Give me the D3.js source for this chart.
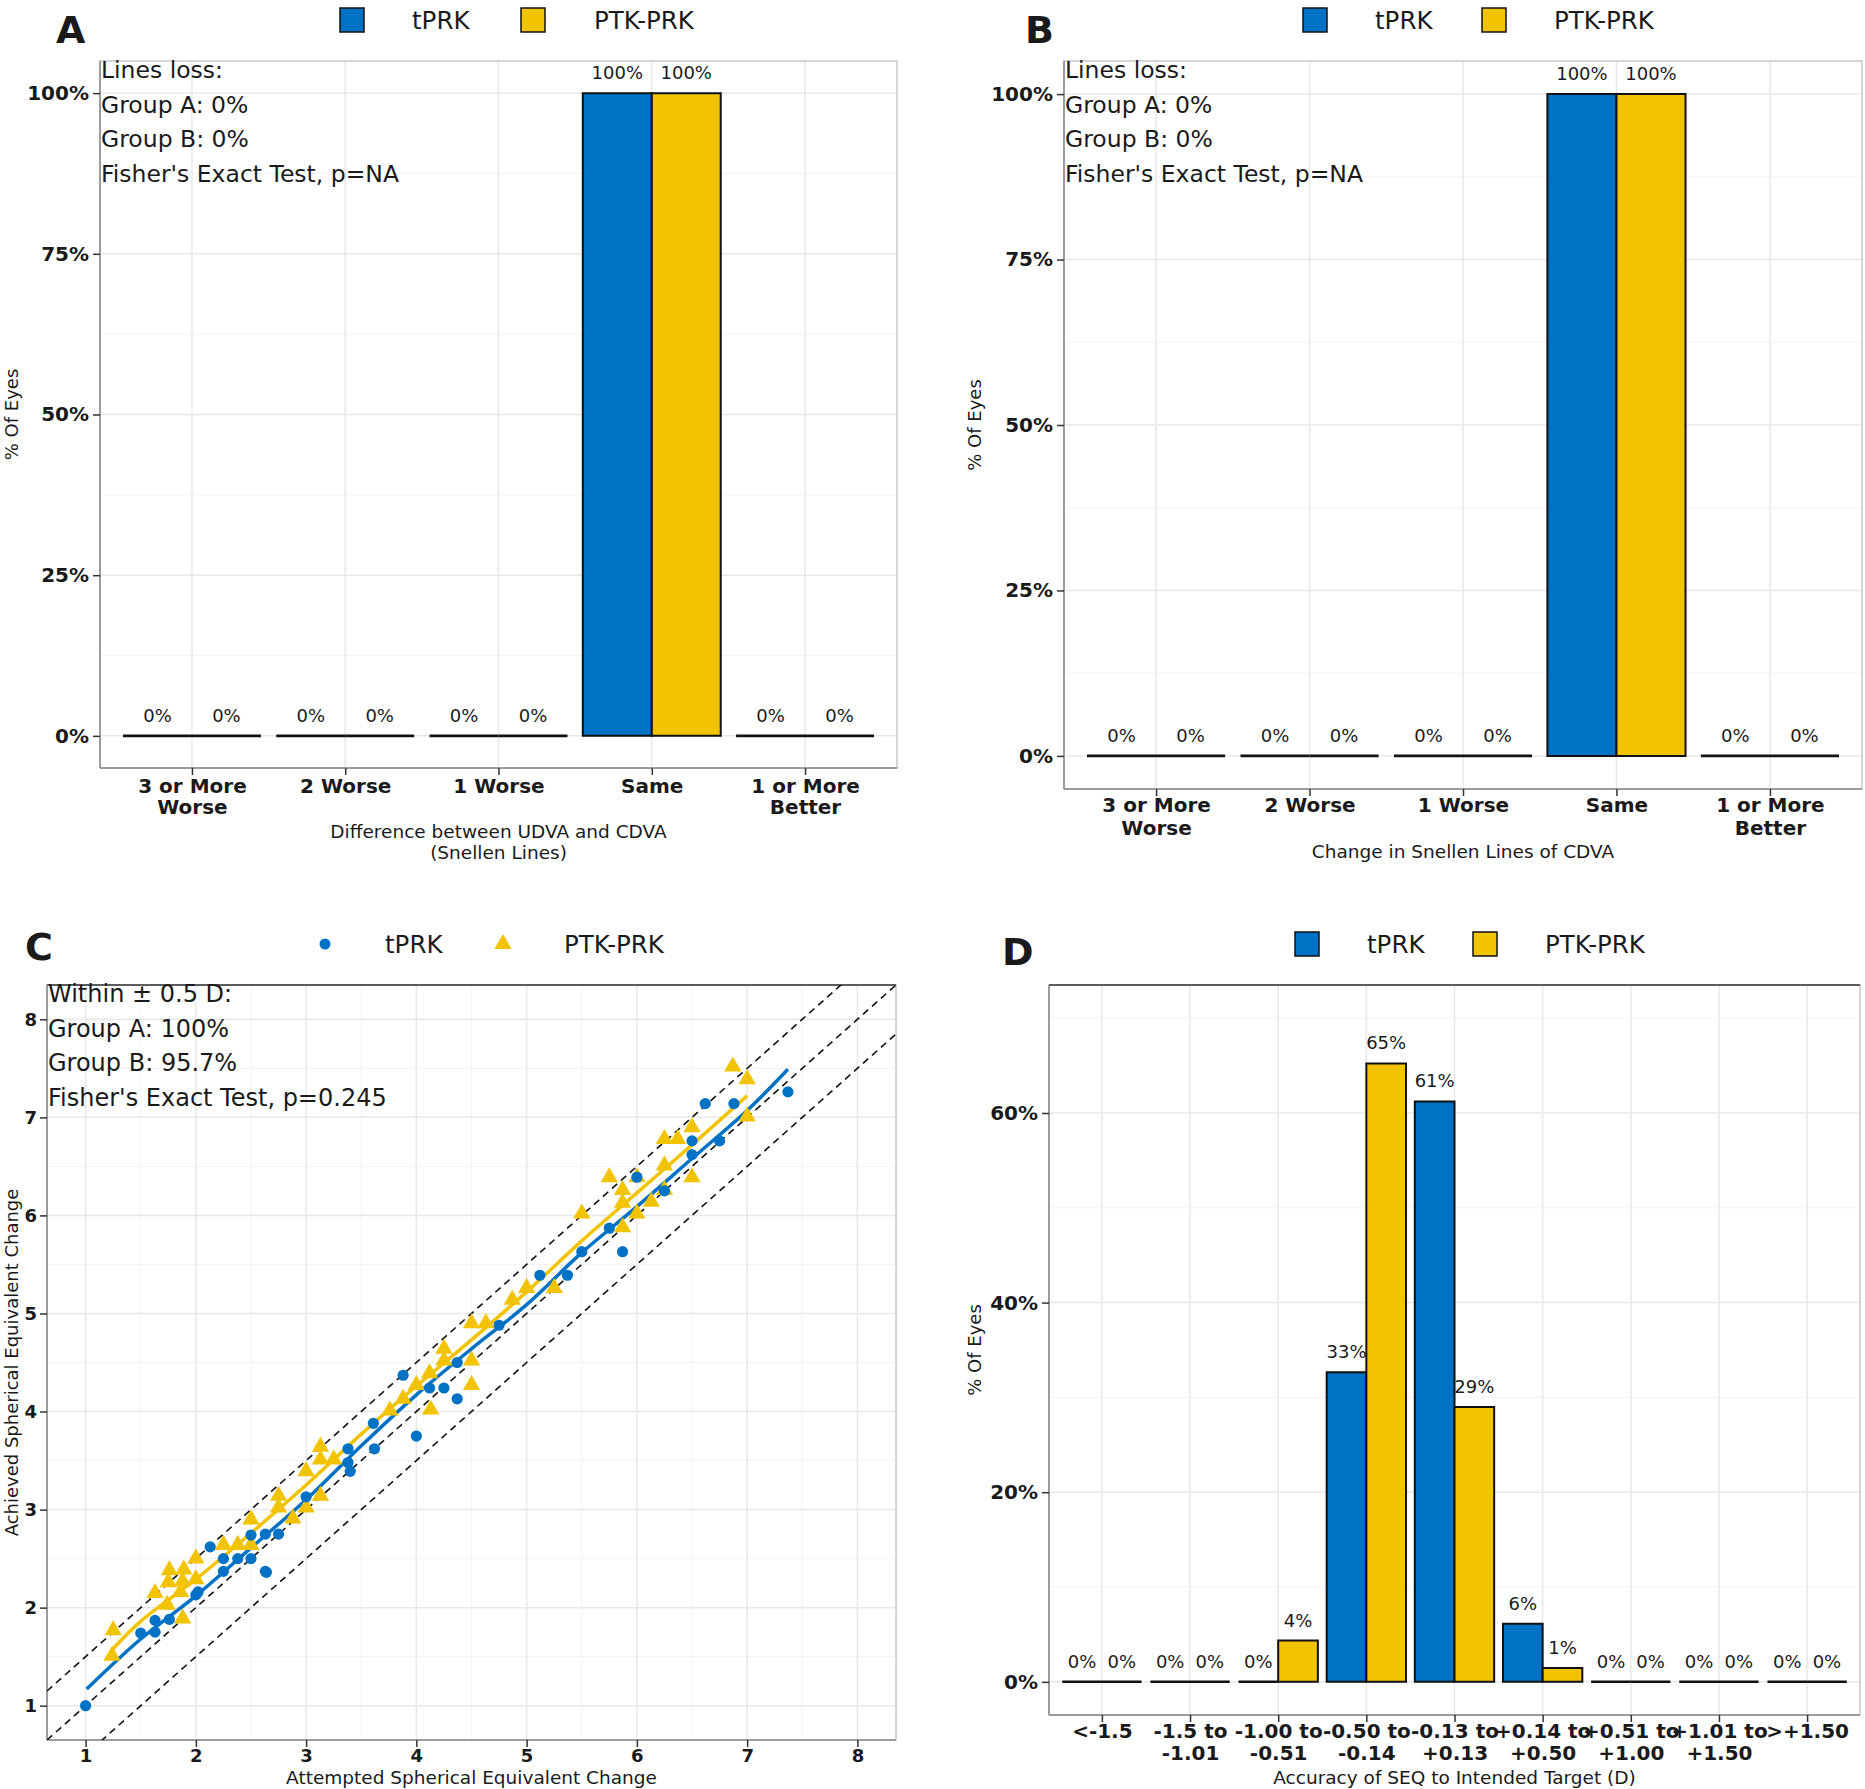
<!DOCTYPE html>
<html lang="en">
<head>
<meta charset="UTF-8">
<script src="https://cdn.jsdelivr.net/npm/d3@7"></script>
<title>Refractive outcomes</title>
<style>
    body { margin: 0; background: #fff; }
    svg text { font-family: "DejaVu Sans", sans-serif; fill: #1a1a1a; }
</style>
</head>
<body>
<svg id="fig" width="1865" height="1789"></svg>
<script>
    // ---- data ----
    const groups = ["tPRK", "PTK-PRK"];
    const colors = ["#0072C6", "#F2C300"];

    const snellenCats = ["3 or More\nWorse", "2 Worse", "1 Worse", "Same", "1 or More\nBetter"];
    const udvaTprk = [0, 0, 0, 100, 0];
    const udvaPtk = [0, 0, 0, 100, 0];
    const cdvaTprk = [0, 0, 0, 100, 0];
    const cdvaPtk = [0, 0, 0, 100, 0];
    const pctTicksAB = [0, 25, 50, 75, 100];
    const pctMinorAB = [12.5, 37.5, 62.5, 87.5];

    const seqCats = ["<-1.5", "-1.5 to\n-1.01", "-1.00 to\n-0.51", "-0.50 to\n-0.14", "-0.13 to\n+0.13",
        "+0.14 to\n+0.50", "+0.51 to\n+1.00", "+1.01 to\n+1.50", ">+1.50"];
    const seqTprk = [0, 0, 0, 32.65, 61.22, 6.12, 0, 0, 0];
    const seqPtk = [0, 0, 4.35, 65.22, 28.99, 1.45, 0, 0, 0];
    const pctTicksD = [0, 20, 40, 60];
    const pctMinorD = [10, 30, 50, 70];

    const annotA = ["Lines loss:", "Group A: 0%", "Group B: 0%", "Fisher's Exact Test, p=NA"];
    const annotB = ["Lines loss:", "Group A: 0%", "Group B: 0%", "Fisher's Exact Test, p=NA"];
    const annotC = ["Within \u00b1 0.5 D:", "Group A: 100%", "Group B: 95.7%", "Fisher's Exact Test, p=0.245"];

    // scatter: attempted vs achieved SE change
    const tprkAttempted = [1, 1.5, 1.63, 1.63, 1.76, 2, 2.02, 2.13, 2.25, 2.25, 2.38, 2.5, 2.5, 2.63, 2.64, 2.63,
        2.75, 3, 3.38, 3.38, 3.4, 3.61, 3.62, 3.88, 4, 4.12, 4.25, 4.37, 4.37, 4.75, 5.12, 5.37, 5.5, 5.87,
        5.75, 6, 6.25, 6.5, 6.5, 6.62, 6.75, 6.88, 7.37];
    const tprkAchieved = [1, 1.74, 1.75, 1.87, 1.88, 2.13, 2.16, 2.62, 2.37, 2.5, 2.5, 2.5, 2.74, 2.37, 2.36, 2.75,
        2.75, 3.13, 3.62, 3.48, 3.39, 3.88, 3.62, 4.37, 3.75, 4.24, 4.24, 4.5, 4.13, 4.88, 5.39, 5.39, 5.63, 5.63,
        5.87, 6.39, 6.25, 6.62, 6.76, 7.14, 6.76, 7.14, 7.26];
    const ptkAttempted = [1.25, 1.24, 1.63, 1.76, 1.75, 1.74, 1.89, 1.88, 1.86, 2, 2, 1.88, 2.25, 2.38, 2.5, 2.5,
        2.75, 2.75, 2.88, 3, 3, 3.13, 3.13, 3.13, 3.25, 3.76, 3.88, 4, 4.12, 4.13, 4.25, 4.25, 4.5, 4.5, 4.5,
        4.63, 4.87, 5, 5.25, 5.5, 5.75, 5.87, 5.87, 5.87, 6, 6, 6.13, 6.25, 6.25, 6.25, 6.37, 6.5, 6.5, 6.87, 7, 7];
    const ptkAchieved = [1.77, 1.51, 2.15, 2.38, 2.26, 2.03, 2.39, 1.89, 2.16, 2.5, 2.29, 2.27, 2.64, 2.64, 2.9, 2.64,
        3.14, 3.02, 2.91, 3.39, 3.02, 3.64, 3.51, 3.14, 3.51, 4.01, 4.13, 4.27, 4.39, 4.02, 4.64, 4.52, 4.9, 4.52, 4.27,
        4.9, 5.14, 5.26, 5.26, 6.02, 6.39, 6.26, 6.13, 5.88, 6.39, 6.02, 6.14, 6.78, 6.51, 6.26, 6.78, 6.9, 6.39, 7.52, 7.39, 7.01];

    // loess curves as drawn
    const tprkFitX = [1.01, 1.5, 2, 2.5, 3, 3.5, 4, 4.5, 5, 5.5, 6, 6.5, 7, 7.37];
    const tprkFitY = [1.17, 1.68, 2.12, 2.61, 3.1, 3.65, 4.17, 4.64, 5.09, 5.62, 6.09, 6.58, 7.07, 7.49];
    const ptkFitX = [1.24, 1.5, 2, 2.5, 3, 3.5, 4, 4.5, 5, 5.5, 6, 6.5, 7];
    const ptkFitY = [1.57, 1.86, 2.29, 2.76, 3.25, 3.77, 4.26, 4.73, 5.22, 5.74, 6.23, 6.72, 7.22];
    const seTicks = [1, 2, 3, 4, 5, 6, 7, 8];
    const seMinor = [1.5, 2.5, 3.5, 4.5, 5.5, 6.5, 7.5];
    const bandOffsets = [-0.5, 0, 0.5];

    const svg = d3.select("#fig");

    function multiLine(sel, lineH) {
        sel.each(function () {
            const t = d3.select(this);
            const parts = t.text().split("\n");
            const dy = t.attr("dy");
            t.text(null);
            parts.forEach((p, i) => {
                t.append("tspan").attr("x", 0).attr("dy", i === 0 ? dy : lineH + "px").text(p);
            });
        });
    }

    function styleAxis(g, size) {
        g.select(".domain").remove();
        g.selectAll(".tick line").attr("stroke", "#333").attr("stroke-width", 1.5);
        g.selectAll(".tick text")
            .attr("fill", "#1a1a1a")
            .style("font-size", size + "px")
            .style("font-weight", "bold")
            .style("font-family", "DejaVu Sans, sans-serif");
    }

    function drawFrame(p, x, y, xGrid, xMinor, yGrid, yMinor, darkTop) {
        const g = svg.append("g");
        xMinor.forEach(v => g.append("line").attr("x1", x(v)).attr("x2", x(v)).attr("y1", p.top).attr("y2", p.bottom)
            .attr("stroke", "#F3F3F3").attr("stroke-width", 1));
        yMinor.forEach(v => g.append("line").attr("x1", p.left).attr("x2", p.right).attr("y1", y(v)).attr("y2", y(v))
            .attr("stroke", "#F3F3F3").attr("stroke-width", 1));
        xGrid.forEach(v => g.append("line").attr("x1", x(v)).attr("x2", x(v)).attr("y1", p.top).attr("y2", p.bottom)
            .attr("stroke", "#E8E8E8").attr("stroke-width", 1.5));
        yGrid.forEach(v => g.append("line").attr("x1", p.left).attr("x2", p.right).attr("y1", y(v)).attr("y2", y(v))
            .attr("stroke", "#E8E8E8").attr("stroke-width", 1.5));
        g.append("rect").attr("x", p.left).attr("y", p.top).attr("width", p.right - p.left).attr("height", p.bottom - p.top)
            .attr("fill", "none").attr("stroke", "#C8C8C8").attr("stroke-width", 1.5);
        if (darkTop) {
            g.append("line").attr("x1", p.left).attr("x2", p.right).attr("y1", p.top).attr("y2", p.top)
                .attr("stroke", "#333").attr("stroke-width", 1.5);
        }
        g.append("line").attr("x1", p.left).attr("x2", p.left).attr("y1", p.top).attr("y2", p.bottom)
            .attr("stroke", "#888").attr("stroke-width", 1.5);
        g.append("line").attr("x1", p.left).attr("x2", p.right).attr("y1", p.bottom).attr("y2", p.bottom)
            .attr("stroke", "#888").attr("stroke-width", 1.5);
    }

    function drawLegend(p, kind) {
        const g = svg.append("g");
        groups.forEach((name, i) => {
            if (kind === "square") {
                g.append("rect").attr("x", p.legSym[i]).attr("y", p.legY - 12).attr("width", 24).attr("height", 24)
                    .attr("fill", colors[i]).attr("stroke", "#111").attr("stroke-width", 1.5);
            } else {
                const sym = d3.symbol().type(i === 0 ? d3.symbolCircle : d3.symbolTriangle).size(i === 0 ? 95 : 130);
                g.append("path").attr("d", sym()).attr("transform", `translate(${p.legSym[i]},${p.legY})`)
                    .attr("fill", colors[i]);
            }
            g.append("text").attr("x", p.legText[i]).attr("y", p.legY + 9).style("font-size", "24.5px").text(name);
        });
    }

    function drawTitles(p) {
        svg.append("text").attr("x", p.letterX).attr("y", p.letterY)
            .style("font-size", "38px").style("font-weight", "bold").attr("fill", "#000").text(p.letter);
        svg.append("text").attr("transform", `translate(${p.yTitleX},${(p.top + p.bottom) / 2}) rotate(-90)`)
            .attr("text-anchor", "middle").style("font-size", "18px").text(p.yTitle);
        p.xTitle.forEach((t, i) => {
            svg.append("text").attr("x", (p.left + p.right) / 2).attr("y", p.xTitleY + i * 21)
                .attr("text-anchor", "middle").style("font-size", "18.5px").text(t);
        });
        p.annot.forEach((t, i) => {
            svg.append("text").attr("x", p.left + 1).attr("y", p.annotY + i * 34.5)
                .style("font-size", p.annotSize + "px").attr("fill", "#111").text(t);
        });
    }

    function barPanel(p) {
        const n = p.cats.length;
        const x = d3.scaleLinear().domain([0.4, n + 0.6]).range([p.left, p.right]);
        const y = d3.scaleLinear().domain(p.yDomain).range([p.bottom, p.top]);
        const pos = d3.range(1, n + 1);
        drawFrame(p, x, y, pos, [], p.yTicks, p.yMinor, p.darkTop);

        const g = svg.append("g");
        [p.s1, p.s2].forEach((vals, si) => {
            vals.forEach((v, i) => {
                const x0 = x(pos[i] - 0.45 + si * 0.45), x1 = x(pos[i] + si * 0.45);
                const y0 = y(0), y1 = y(v);
                g.append("path")
                    .attr("d", `M${x0},${y0}L${x0},${y1}L${x1},${y1}L${x1},${y0}Z`)
                    .attr("fill", colors[si]).attr("stroke", "#111").attr("stroke-width", v === 0 ? 2.6 : 2);
                g.append("text").attr("x", (x0 + x1) / 2).attr("y", y1 - p.labelGap)
                    .attr("text-anchor", "middle").style("font-size", "18px").text(Math.round(v) + "%");
            });
        });

        const xa = svg.append("g").attr("transform", `translate(0,${p.bottom})`)
            .call(d3.axisBottom(x).tickValues(pos).tickFormat((d, i) => p.cats[i]).tickSize(7).tickPadding(p.xPad));
        styleAxis(xa, p.xTickSize);
        multiLine(xa.selectAll(".tick text"), p.xLineH);

        const ya = svg.append("g").attr("transform", `translate(${p.left},0)`)
            .call(d3.axisLeft(y).tickValues(p.yTicks).tickFormat(d => d + "%").tickSize(7).tickPadding(4));
        styleAxis(ya, 20);

        drawLegend(p, "square");
        drawTitles(p);
    }

    // ---- panel A ----
    barPanel({
        left: 100, right: 897, top: 61, bottom: 768, yDomain: [-5, 105],
        yTicks: pctTicksAB, yMinor: pctMinorAB, cats: snellenCats, s1: udvaTprk, s2: udvaPtk,
        labelGap: 14, xPad: 4, xLineH: 21, xTickSize: 20, darkTop: false,
        legSym: [340, 521], legText: [412, 594], legY: 20,
        letter: "A", letterX: 56, letterY: 43, yTitle: "% Of Eyes", yTitleX: 18,
        xTitle: ["Difference between UDVA and CDVA", "(Snellen Lines)"], xTitleY: 838,
        annot: annotA, annotY: 78, annotSize: 23.5
    });

    // ---- panel B ----
    barPanel({
        left: 1064, right: 1862, top: 61, bottom: 789, yDomain: [-5, 105],
        yTicks: pctTicksAB, yMinor: pctMinorAB, cats: snellenCats, s1: cdvaTprk, s2: cdvaPtk,
        labelGap: 14, xPad: 2, xLineH: 23, xTickSize: 20, darkTop: false,
        legSym: [1303, 1482], legText: [1375, 1554], legY: 20,
        letter: "B", letterX: 1025, letterY: 43, yTitle: "% Of Eyes", yTitleX: 981,
        xTitle: ["Change in Snellen Lines of CDVA"], xTitleY: 858,
        annot: annotB, annotY: 78, annotSize: 23.5
    });

    // ---- panel D ----
    barPanel({
        left: 1049, right: 1860, top: 985, bottom: 1715, yDomain: [-3.5, 73.5],
        yTicks: pctTicksD, yMinor: pctMinorD, cats: seqCats, s1: seqTprk, s2: seqPtk,
        labelGap: 14, xPad: 2, xLineH: 22, xTickSize: 20, darkTop: true,
        legSym: [1295, 1473], legText: [1367, 1545], legY: 944,
        letter: "D", letterX: 1002, letterY: 965, yTitle: "% Of Eyes", yTitleX: 981,
        xTitle: ["Accuracy of SEQ to Intended Target (D)"], xTitleY: 1784,
        annot: [], annotY: 0, annotSize: 23
    });

    // ---- panel C (scatter) ----
    (function scatterPanel() {
        const p = {
            left: 47, right: 896, top: 985, bottom: 1740,
            legSym: [325, 503], legText: [385, 564], legY: 944,
            letter: "C", letterX: 25, letterY: 960, yTitle: "Achieved Spherical Equivalent Change", yTitleX: 18,
            xTitle: ["Attempted Spherical Equivalent Change"], xTitleY: 1784,
            annot: annotC, annotY: 1002, annotSize: 24
        };
        const x = d3.scaleLinear().domain([0.65, 8.35]).range([p.left, p.right]);
        const y = d3.scaleLinear().domain([0.65, 8.35]).range([p.bottom, p.top]);
        drawFrame(p, x, y, seTicks, seMinor, seTicks, seMinor, true);

        svg.append("clipPath").attr("id", "clipC").append("rect")
            .attr("x", p.left).attr("y", p.top).attr("width", p.right - p.left).attr("height", p.bottom - p.top);
        const g = svg.append("g").attr("clip-path", "url(#clipC)");

        const dom = x.domain();
        bandOffsets.forEach(o => {
            g.append("line").attr("x1", x(dom[0])).attr("y1", y(dom[0] + o))
                .attr("x2", x(dom[1])).attr("y2", y(dom[1] + o))
                .attr("stroke", "#111").attr("stroke-width", 1.6).attr("stroke-dasharray", "7,5");
        });

        const line = d3.line().x(d => x(d[0])).y(d => y(d[1])).curve(d3.curveCatmullRom);
        g.append("path").datum(d3.zip(ptkFitX, ptkFitY)).attr("d", line)
            .attr("fill", "none").attr("stroke", colors[1]).attr("stroke-width", 3.5);
        g.append("path").datum(d3.zip(tprkFitX, tprkFitY)).attr("d", line)
            .attr("fill", "none").attr("stroke", colors[0]).attr("stroke-width", 3.5);

        const tri = d3.symbol().type(d3.symbolTriangle).size(130);
        d3.zip(ptkAttempted, ptkAchieved).forEach(d => {
            g.append("path").attr("d", tri()).attr("transform", `translate(${x(d[0])},${y(d[1])})`).attr("fill", colors[1]);
        });
        d3.zip(tprkAttempted, tprkAchieved).forEach(d => {
            g.append("circle").attr("cx", x(d[0])).attr("cy", y(d[1])).attr("r", 5.6).attr("fill", colors[0]);
        });

        const xa = svg.append("g").attr("transform", `translate(0,${p.bottom})`)
            .call(d3.axisBottom(x).tickValues(seTicks).tickSize(7).tickPadding(2));
        styleAxis(xa, 18);
        const ya = svg.append("g").attr("transform", `translate(${p.left},0)`)
            .call(d3.axisLeft(y).tickValues(seTicks).tickSize(7).tickPadding(3));
        styleAxis(ya, 18);

        drawLegend(p, "symbol");
        drawTitles(p);
    })();
</script>
</body>
</html>
